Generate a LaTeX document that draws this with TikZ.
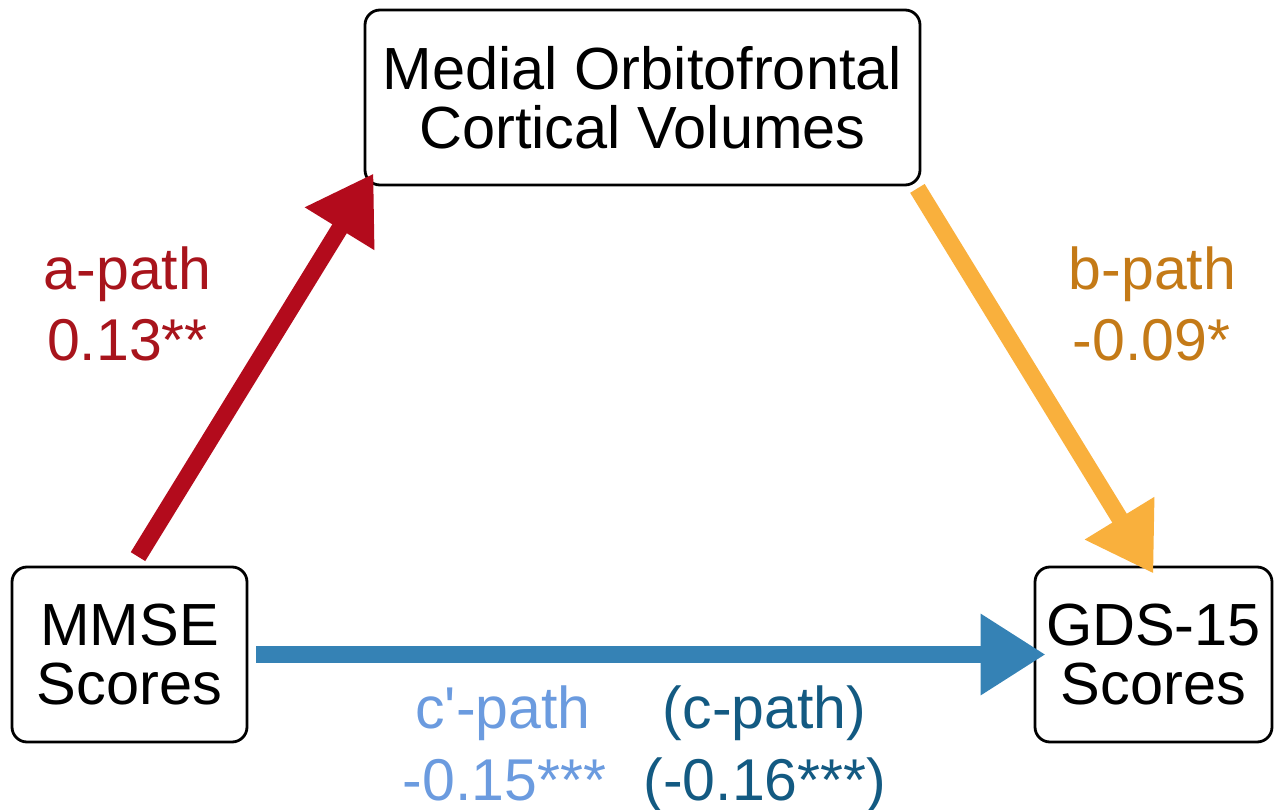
\documentclass[tikz,border=0pt]{standalone}
\usepackage{fontspec}
\setmainfont{Liberation Sans}
\usetikzlibrary{arrows.meta,calc}
\definecolor{redarr}{HTML}{B30B1C}
\definecolor{redtxt}{HTML}{A8141C}
\definecolor{orarr}{HTML}{F9B03D}
\definecolor{ortxt}{HTML}{C47A17}
\definecolor{bluarr}{HTML}{3582B5}
\definecolor{lbtxt}{HTML}{6B9BDF}
\definecolor{dbtxt}{HTML}{135A82}
\tikzset{
  box/.style={draw=black, line width=2.8pt, rounded corners=15pt, fill=white,
    align=center, inner sep=0pt, font=\fontsize{59.5}{59.5}\selectfont},
  lbl/.style={anchor=base, inner sep=0pt, font=\fontsize{59}{59}\selectfont},
  arr/.style={line width=17pt, -{Triangle[length=65pt,width=77pt]}}
}
\begin{document}
\begin{tikzpicture}[x=1pt,y=-1pt]
\useasboundingbox (0,0) rectangle (1277,810);
% boxes
\node[box, minimum width=555pt, minimum height=175pt] (med) at (642.5,97.5)
  {Medial Orbitofrontal\\Cortical Volumes};
\node[box, minimum width=235pt, minimum height=175pt] (mmse) at (129.5,654.5)
  {MMSE\\Scores};
\node[box, minimum width=237pt, minimum height=175pt] (gds) at (1153.5,654.5)
  {GDS-15\\Scores};
% arrows (y grows downwards)
\draw[arr, redarr] ($(mmse.north)+(8.5,-9)$) -- ($(med.south west)+(10,-13)$);
\draw[arr, orarr] ($(med.south east)+(-4,2)$) -- ($(gds.north)+(0,8)$);
\draw[arr, bluarr] ($(mmse.east)+(8,0)$) -- ($(gds.west)+(12,0)$);
% labels
\node[lbl, text=redtxt] (a1) at (127.5,290) {a-path};
\node[lbl, text=redtxt] (a2) at (127.5,360) {0.13**};
\node[lbl, text=ortxt] (b1) at (1152.5,290) {b-path};
\node[lbl, text=ortxt] (b2) at (1151.5,360) {-0.09*};
\node[lbl, text=lbtxt] (c1) at (503,728) {c\textquotesingle-path};
\node[lbl, text=lbtxt] (c2) at (504.5,800) {-0.15***};
\node[lbl, text=dbtxt] (d1) at (764.5,728) {(c-path)};
\node[lbl, text=dbtxt] (d2) at (765,800) {(-0.16***)};
\end{tikzpicture}
\end{document}
